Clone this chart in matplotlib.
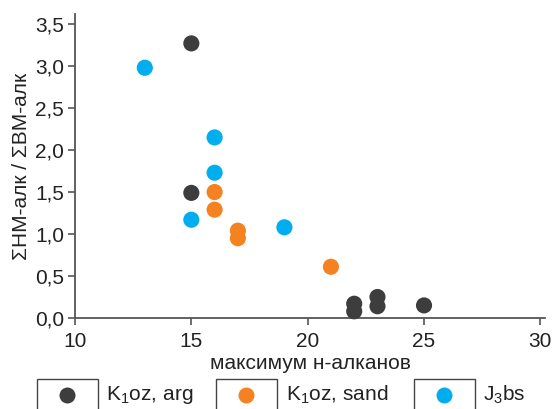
import matplotlib.pyplot as plt
from matplotlib.patches import Rectangle
from matplotlib.ticker import FuncFormatter

plt.rcParams['font.family'] = ['Liberation Sans', 'DejaVu Sans']
plt.rcParams['mathtext.fontset'] = 'custom'
plt.rcParams['mathtext.rm'] = 'Liberation Sans'
plt.rcParams['mathtext.it'] = 'Liberation Sans'

# максимум н-алканов / отношение
arg_x = [15, 15, 22, 22, 23, 23, 25]
arg_y = [3.27, 1.49, 0.17, 0.08, 0.25, 0.14, 0.15]
sand_x = [16, 16, 17, 17, 21]
sand_y = [1.50, 1.29, 1.04, 0.95, 0.61]
bs_x = [13, 16, 16, 15, 19]
bs_y = [2.98, 2.15, 1.73, 1.17, 1.08]

labels = ['K$_1$oz, arg', 'K$_1$oz, sand', 'J$_3$bs']
colors = ['#3d3d3d', '#f58220', '#00aeef']

fig = plt.figure(figsize=(5.55, 4.09), dpi=100)
ax = fig.add_axes([75 / 555, 1 - 318 / 409, 470 / 555, 304 / 409])

for xs, ys, c in zip([arg_x, sand_x, bs_x], [arg_y, sand_y, bs_y], colors):
    ax.scatter(xs, ys, s=135, color=c, edgecolors='none', zorder=3, clip_on=False)

ax.set_xlim(10, 30.2)
ax.set_ylim(0, 3.62)
ax.set_xticks([10, 15, 20, 25, 30])
ax.set_yticks([0, 0.5, 1.0, 1.5, 2.0, 2.5, 3.0, 3.5])
ax.yaxis.set_major_formatter(FuncFormatter(lambda v, p: f'{v:.1f}'.replace('.', ',')))

for side in ['top', 'right']:
    ax.spines[side].set_visible(False)
for side in ['left', 'bottom']:
    ax.spines[side].set_color('#555555')
    ax.spines[side].set_linewidth(1.3)
ax.tick_params(direction='out', length=5, width=1.2, color='#555555',
               labelsize=15, labelcolor='#222222', pad=3)
ax.tick_params(axis='x', pad=5)

ax.set_xlabel('максимум н-алканов', fontsize=15, color='#222222', labelpad=2)
ax.set_ylabel('ΣНМ-алк / ΣВМ-алк', fontsize=15, color='#222222', labelpad=3)

# легенда: маркер в рамке и подпись справа
box_left = [37, 216, 414]
text_left = [106, 286, 483]
for bx, tx, lab, c in zip(box_left, text_left, labels, colors):
    fig.patches.append(Rectangle((bx / 555, -0.01), 61 / 555, (409 - 379) / 409 + 0.01,
                                 transform=fig.transFigure, facecolor='white',
                                 edgecolor='#444444', linewidth=1.0))
    fig.add_artist(plt.Line2D([(bx + 30) / 555], [1 - 395 / 409], marker='o',
                              markersize=11.5, color=c, markeredgewidth=0,
                              transform=fig.transFigure))
    fig.text(tx / 555, 1 - 395 / 409, lab, fontsize=15, color='#222222',
             va='center', ha='left')

fig.savefig('out.png', dpi=100)
